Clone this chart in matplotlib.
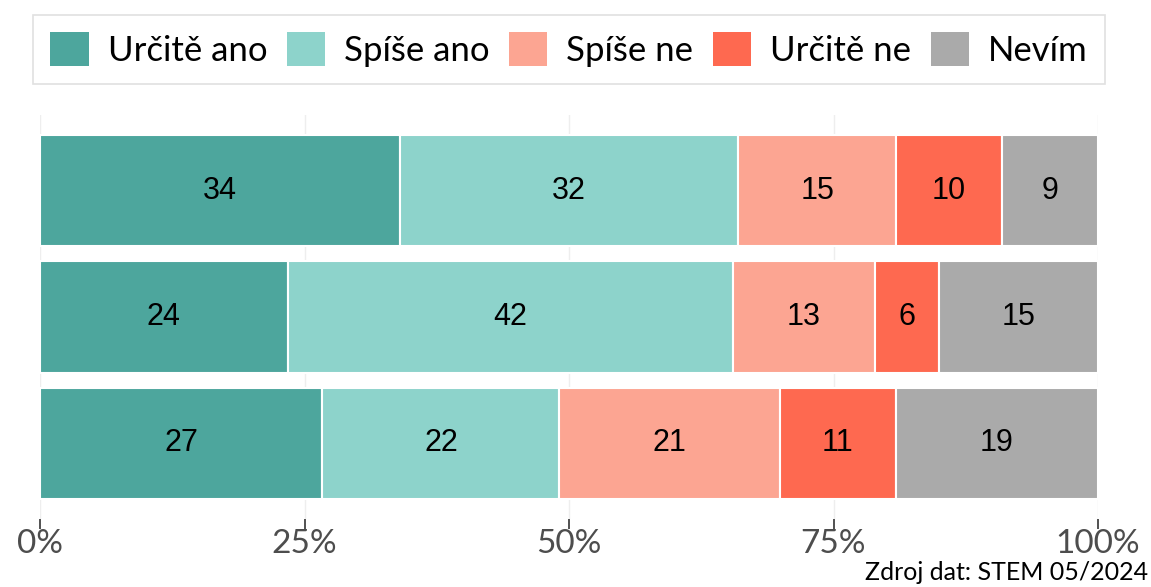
import matplotlib
matplotlib.use('Agg')
import matplotlib.pyplot as plt
from matplotlib.patches import Patch
import numpy as np

# categories (legend order)
kategorie = ["Určitě ano", "Spíše ano", "Spíše ne", "Určitě ne", "Nevím"]
barvy = ["#4DA69D", "#8DD3CB", "#FCA592", "#FE6950", "#AAAAAA"]

# shares in %, top bar first (widths)
radek_1 = [34.0, 32.0, 14.9, 10.0, 9.1]
radek_2 = [23.4, 42.1, 13.4, 6.1, 15.0]
radek_3 = [26.7, 22.4, 20.8, 11.0, 19.1]

# labels printed in the bars
popisky_1 = [34, 32, 15, 10, 9]
popisky_2 = [24, 42, 13, 6, 15]
popisky_3 = [27, 22, 21, 11, 19]

tick_pos = [0, 25, 50, 75, 100]
tick_labels = ["0%", "25%", "50%", "75%", "100%"]

radky = [radek_1, radek_2, radek_3]
popisky = [popisky_1, popisky_2, popisky_3]

fig = plt.figure(figsize=(11.51, 5.87), dpi=100)
ax = fig.add_axes([40 / 1151, (587 - 519) / 587, 1058 / 1151, 404 / 587])

for i, (hodnoty, texty) in enumerate(zip(radky, popisky)):
    left = 0
    for j, (v, t) in enumerate(zip(hodnoty, texty)):
        ax.barh(i, v, left=left, height=0.88, color=barvy[j],
                edgecolor="white", linewidth=1.5)
        ax.text(left + v / 2, i, str(t), ha="center", va="center",
                fontsize=22, family="Liberation Sans", color="black")
        left += v

ax.set_xlim(0, 100)
ax.set_ylim(2.6, -0.6)
ax.set_yticks([])
ax.set_xticks(tick_pos)
ax.set_xticklabels(tick_labels, fontsize=24, family="Lato", color="#4D4D4D")
ax.tick_params(axis="x", length=7, width=1.2, color="#333333", pad=0)
ax.grid(axis="x", color="#EEEEEE", linewidth=1)
ax.set_axisbelow(True)
for s in ax.spines.values():
    s.set_visible(False)

handles = [Patch(facecolor=c, edgecolor="none") for c in barvy]
leg = fig.legend(handles, kategorie, loc="center",
                 bbox_to_anchor=(33 / 1151, 1 - 87 / 587, 1072 / 1151, 75 / 587),
                 mode="expand", ncol=5, prop={"family": "Lato", "size": 25},
                 frameon=True, fancybox=False, edgecolor="#D9D9D9",
                 handlelength=1.1, handleheight=1.1, handletextpad=0.55,
                 columnspacing=0.6, borderaxespad=0, borderpad=0.5)
leg.get_frame().set_linewidth(1.2)

fig.text(1148 / 1151, 3 / 587, "Zdroj dat: STEM 05/2024", ha="right", va="bottom",
         fontsize=18, family="Lato", color="black")

plt.savefig("out.png", dpi=100)
